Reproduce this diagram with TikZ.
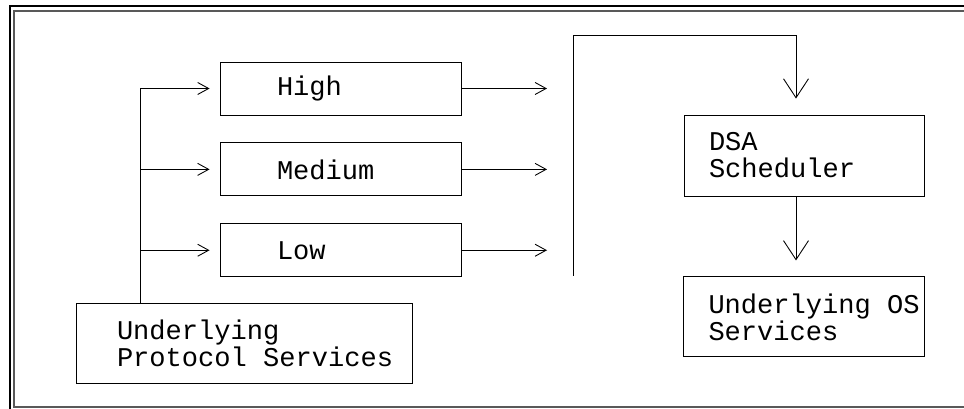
\documentclass[tikz,border=0pt]{standalone}
\usepackage{fontspec}
\setmonofont{Liberation Mono}
\usepackage{tikz}
\usetikzlibrary{arrows.meta, positioning}

\tikzset{
	block/.style={draw, line width=0.5pt, inner xsep=0pt, align=left,
		font=\ttfamily\fontsize{15.4}{15.4}\selectfont},
	pad/.style={execute at begin node={\leftskip=#1\spaceskip=0.6em\relax}},
	feed/.style={line width=0.5pt, -{Straight Barb[length=0.22cm, width=0.24cm]}, shorten >=0.2cm},
	drop/.style={line width=0.5pt, -{Straight Barb[length=0.38cm, width=0.5cm]}, shorten >=0.32cm},
}

\begin{document}
\begin{tikzpicture}
	\useasboundingbox (0,0) rectangle (19.28,8.18);
	\draw[line width=0.6pt] (19.28,8.06) -- (0.20,8.06) -- (0.20,0);
	\draw[line width=0.7pt, black!65] (19.28,7.96) -- (0.28,7.96) -- (0.28,0.04) -- (19.28,0.04);

	\node[block, text width=4.82cm, minimum height=1.06cm, pad=1.14cm] (high) at (6.81,6.41) {High};
	\node[block, text width=4.82cm, minimum height=1.06cm, pad=1.14cm, below=0.54cm of high] (medium) {Medium};
	\node[block, text width=4.82cm, minimum height=1.06cm, pad=1.14cm, below=0.54cm of medium] (low) {Low};
	\node[block, text width=6.72cm, minimum height=1.6cm, pad=0.82cm] (proto) at (4.88,1.32) {Underlying\\Protocol Services};
	\node[block, text width=4.8cm, minimum height=1.62cm, pad=0.5cm] (dsa) at (16.08,5.07) {DSA\\Scheduler};
	\node[block, text width=4.82cm, minimum height=1.6cm, pad=0.5cm, below=1.6cm of dsa] (os) {Underlying OS\\Services};

	\coordinate[left=1.58cm of high.west] (fork);
	\coordinate (bus) at (11.46,7.48);
	\coordinate (busend) at (11.46,2.66);

	\draw[feed] (fork |- proto.north) |- (high);
	\foreach \n in {medium, low}
		\draw[feed] (fork |- \n) -- (\n);
	\foreach \n in {high, medium, low}
		\draw[feed, shorten >=0.52cm] (\n) -- (bus |- \n);
	%\draw (busend) -- (bus);
	\draw[drop] (busend) -- (bus) -| ([xshift=-0.16cm]dsa.north);
	\draw[drop] ([xshift=-0.16cm]dsa.south) -- ([xshift=-0.16cm]os.north);
\end{tikzpicture}
\end{document}
